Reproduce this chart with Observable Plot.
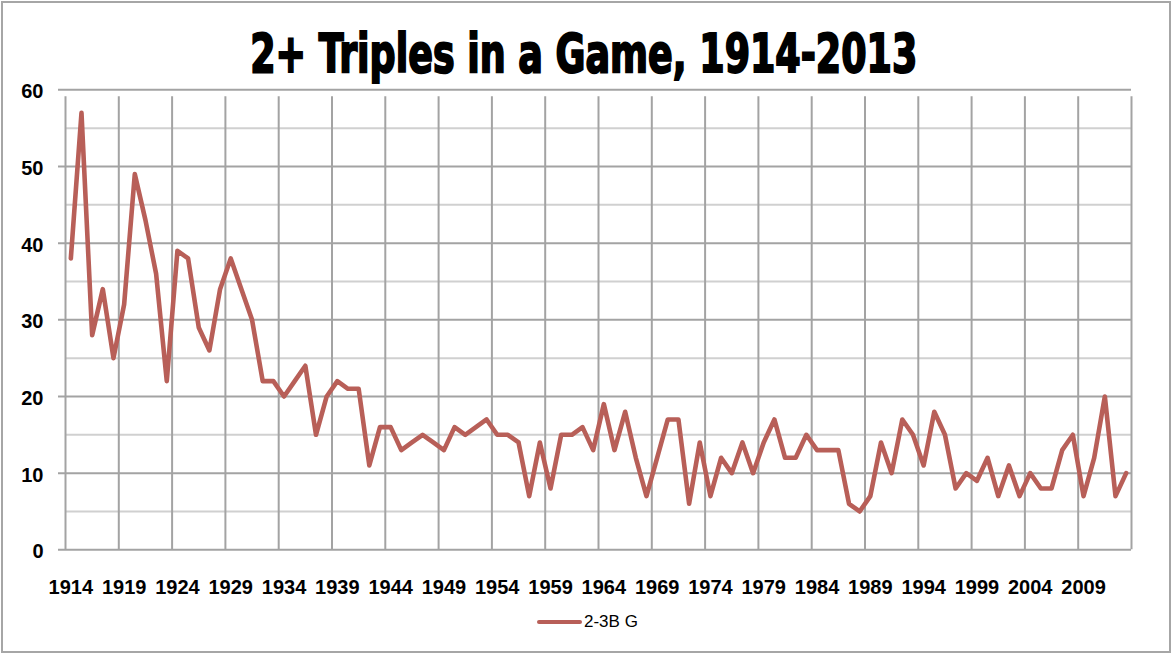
<!DOCTYPE html>
<html>
<head>
<meta charset="utf-8">
<script src="https://cdn.jsdelivr.net/npm/d3@7"></script>
<script src="https://cdn.jsdelivr.net/npm/@observablehq/plot@0.6"></script>
<style>
  html, body { margin: 0; padding: 0; background: #fff; }
  #wrap { position: relative; width: 1173px; height: 655px; overflow: hidden; }
  #frame { position: absolute; left: 1px; top: 1px; width: 1170px; height: 652px; box-sizing: border-box; border: 2px solid #a6a6a6; pointer-events: none; }
  #chart { position: absolute; left: 0; top: 0; }
  #title { position: absolute; left: 0; width: 1167px; top: 27px; text-align: center; }
  #title span { display: inline-block; transform: scaleX(0.75); transform-origin: center; font-family: "DejaVu Sans Condensed", "DejaVu Sans", sans-serif; font-weight: bold; font-size: 54px; line-height: 54px; color: #000; -webkit-text-stroke: 2px #000; white-space: nowrap; }
  #legend { position: absolute; left: 537px; top: 610px; height: 24px; display: flex; align-items: center; font-family: "Liberation Sans", sans-serif; font-size: 17px; color: #000; }
  #legend .sw { display: inline-block; width: 45px; height: 4px; background: #b85f58; margin-right: 2px; border-radius: 2px; }
</style>
</head>
<body>
<div id="wrap">
  <div id="chart"></div>
  <div id="title"><span>2+ Triples in a Game, 1914-2013</span></div>
  <div id="legend"><span class="sw"></span><span>2-3B G</span></div>
  <div id="frame"></div>
</div>
<script>
const seriesName = "2-3B G";
const years = d3.range(1914, 2014);
const values = [
  38, 57, 28, 34, 25, 32, 49, 43, 36, 22,
  39, 38, 29, 26, 34, 38, 34, 30, 22, 22,
  20, 22, 24, 15, 20, 22, 21, 21, 11, 16,
  16, 13, 14, 15, 14, 13, 16, 15, 16, 17,
  15, 15, 14, 7, 14, 8, 15, 15, 16, 13,
  19, 13, 18, 12, 7, 12, 17, 17, 6, 14,
  7, 12, 10, 14, 10, 14, 17, 12, 12, 15,
  13, 13, 13, 6, 5, 7, 14, 10, 17, 15,
  11, 18, 15, 8, 10, 9, 12, 7, 11, 7,
  10, 8, 8, 13, 15, 7, 12, 20, 7, 10
];
const yTicks = [0, 10, 20, 30, 40, 50, 60];
const yMinor = [5, 15, 25, 35, 45, 55];
const labelStep = 5;

const data = years.map((yr, i) => ({year: yr, idx: i + 0.5, value: values[i]}));
const boundaries = d3.range(0, years.length + 1, labelStep);
const xLabels = years.filter((yr, i) => i % labelStep === 0).map(yr => ({year: yr, idx: years.indexOf(yr) + 0.5}));

const plot = Plot.plot({
  width: 1173,
  height: 655,
  marginLeft: 65,
  marginRight: 42,
  marginTop: 89.3,
  marginBottom: 105.7,
  x: {type: "linear", domain: [0, years.length], axis: null},
  y: {domain: [0, 60], axis: null},
  style: {background: "transparent"},
  marks: [
    Plot.ruleY(yMinor, {x1: 0, x2: years.length, stroke: "#d0d0d0", strokeWidth: 2}),
    Plot.ruleY(yTicks, {x1: 0, x2: years.length, stroke: "#a3a3a3", strokeWidth: 2, insetLeft: -7}),
    Plot.ruleX(boundaries, {y1: 0, y2: 60, stroke: "#a3a3a3", strokeWidth: 2, insetBottom: -7}),
    Plot.text(yTicks, {x: 0, y: d => d, text: d => String(d), textAnchor: "end", dx: -22, dy: 2, fontSize: 20, fontWeight: "bold", fontFamily: "Liberation Sans, Arial, sans-serif", fill: "#000"}),
    Plot.text(xLabels, {x: "idx", y: () => 0, text: d => String(d.year), dy: 38, fontSize: 20, fontWeight: "bold", fontFamily: "Liberation Sans, Arial, sans-serif", fill: "#000"}),
    Plot.line(data, {x: "idx", y: "value", stroke: "#b85f58", strokeWidth: 4.6, strokeLinejoin: "round", strokeLinecap: "round"})
  ]
});
document.getElementById("chart").appendChild(plot);
</script>
</body>
</html>
